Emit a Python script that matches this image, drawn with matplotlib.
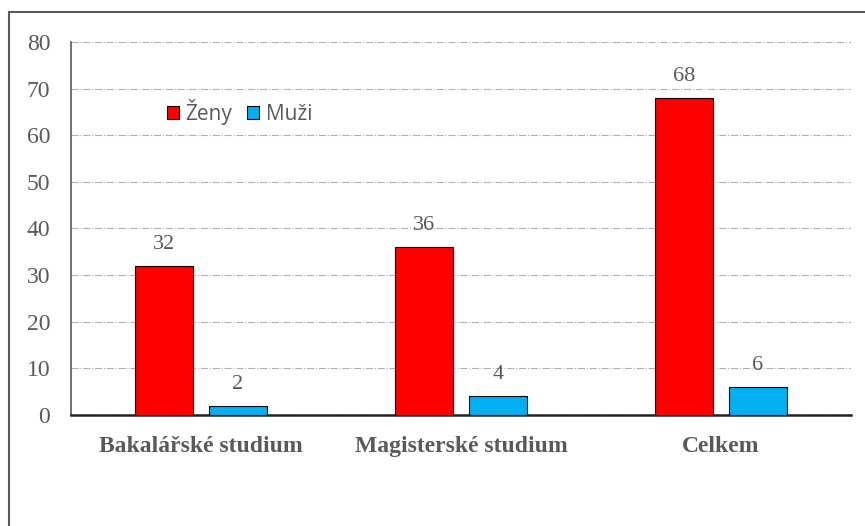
import matplotlib
matplotlib.use("Agg")
import matplotlib.pyplot as plt
import numpy as np
from matplotlib.patches import Rectangle

categories = ['Bakalářské studium', 'Magisterské studium', 'Celkem']
zeny = [32, 36, 68]
muzi = [2, 4, 6]
series_names = ['Ženy', 'Muži']

gray = '#595959'
fig = plt.figure(figsize=(8.65, 5.26), dpi=100)
ax = fig.add_axes([71 / 865, 111 / 526, 780 / 865, 373 / 526])

# outer chart frame (cut off at right and bottom)
fig.patches.append(Rectangle((9 / 865, -0.2), 1.2, 1.2 - 12 / 526,
                             transform=fig.transFigure, fill=False,
                             edgecolor=gray, linewidth=1.5, clip_on=False))

x = np.arange(len(categories))
w = 0.223
off = 0.142
b1 = ax.bar(x - off, zeny, w, color='#ff0000', edgecolor='black', linewidth=0.8,
            label=series_names[0], zorder=3)
b2 = ax.bar(x + off, muzi, w, color='#00b0f0', edgecolor='black', linewidth=0.8,
            label=series_names[1], zorder=3)

for bars in (b1, b2):
    for r in bars:
        ax.text(r.get_x() + r.get_width() / 2, r.get_height() + 2.6,
                f'{r.get_height():g}', ha='center', va='bottom',
                family='Liberation Serif', fontsize=16, color=gray)

ax.set_xlim(-0.5, 2.5)
ax.set_ylim(0, 80)
ax.set_yticks(range(0, 81, 10))
ax.set_yticklabels([str(v) for v in range(0, 81, 10)],
                   family='Liberation Serif', fontsize=17, color=gray)
ax.set_xticks(x)
ax.set_xticklabels(categories, family='Liberation Serif', fontsize=17,
                   fontweight='bold', color=gray)
ax.tick_params(axis='y', length=0, pad=15)
ax.tick_params(axis='x', length=0, pad=15)

ax.yaxis.grid(True, color='#b0b0b0', linestyle='-.', linewidth=0.8, zorder=0)
ax.set_axisbelow(True)
for s in ('top', 'right'):
    ax.spines[s].set_visible(False)
ax.spines['left'].set_color(gray)
ax.spines['left'].set_linewidth(1.2)
ax.spines['bottom'].set_color('#222222')
ax.spines['bottom'].set_linewidth(1.8)

leg = ax.legend(loc='upper left', bbox_to_anchor=(0.112, 0.87), ncol=2,
                frameon=False, prop={'family': 'Open Sans', 'size': 15},
                handlelength=0.6, handleheight=0.6, handletextpad=0.3,
                columnspacing=0.7, borderaxespad=0)
for t in leg.get_texts():
    t.set_color(gray)

fig.savefig('out.png', dpi=100)
